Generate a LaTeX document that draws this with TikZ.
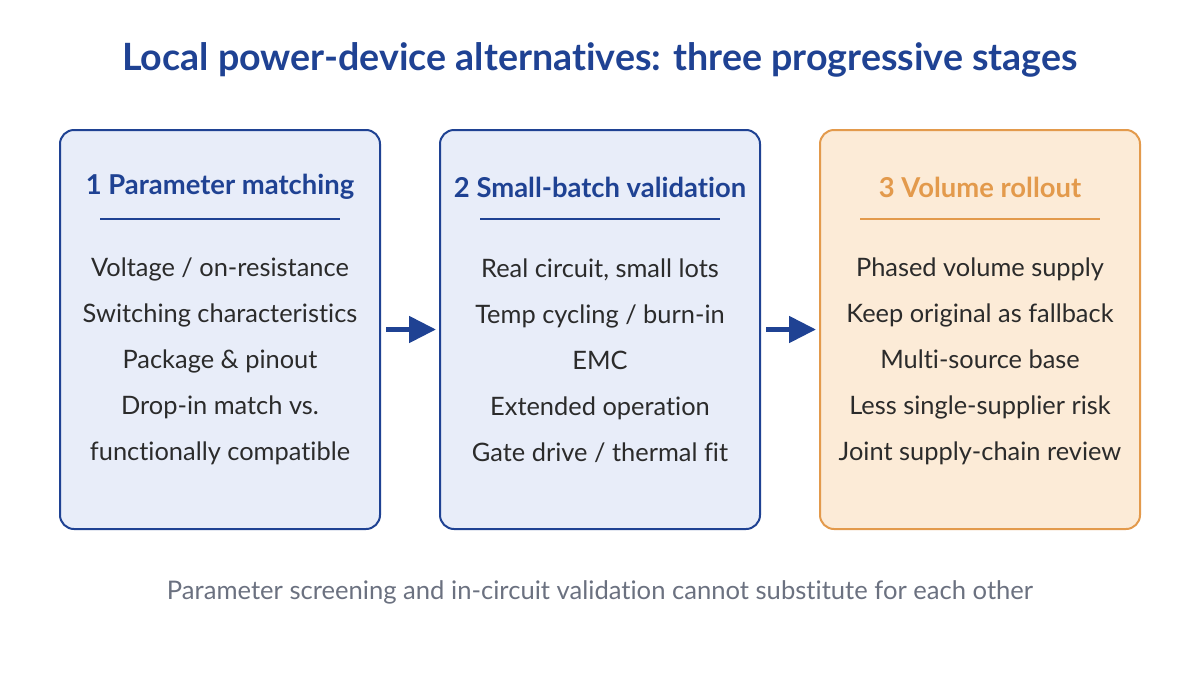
\documentclass[tikz,border=0pt]{standalone}
\usepackage{fontspec}
\setmainfont{Lato}[Ligatures=NoCommon]
\usepackage{xcolor}
\usetikzlibrary{arrows.meta,positioning,calc}

\definecolor{navy}{HTML}{1F4293}
\definecolor{bluefill}{HTML}{E8EDF9}
\definecolor{amber}{HTML}{E39A4C}
\definecolor{amberfill}{HTML}{FCEBD7}
\definecolor{bodytext}{HTML}{2B2B2B}
\definecolor{note}{HTML}{6B7180}

\begin{document}
\begin{tikzpicture}[
  x=0.5pt, y=-0.5pt,
  stage/.style={draw=navy, fill=bluefill, rounded corners=7pt, line width=1pt,
                minimum width=160pt, minimum height=199.5pt, inner sep=0pt},
  hot/.style={stage, draw=amber, fill=amberfill},
  head/.style={font=\fontsize{13.7}{16}\selectfont\bfseries, text=navy},
  hothead/.style={head, text=amber},
  items/.style={align=center, text=bodytext, font=\fontsize{12.7}{23}\selectfont},
  rule/.style={line width=0.8pt, draw=navy},
  ar/.style={-{Triangle[length=13.5pt, width=13pt]}, line width=2.5pt, draw=navy}
]
\useasboundingbox (0,0) rectangle (1200,675);

\node[font=\fontsize{18.8}{22}\selectfont\bfseries, text=navy] (title) at (600,60)
  {Local power-device alternatives: three progressive stages};

\node[stage] (s1) at (220,329.5) {};
\node[stage] (s2) at (600,329.5) {};
\node[hot]   (s3) at (980,329.5) {};

\node[head]    (h1) at (220,187) {1 Parameter matching};
\node[head]    (h2) at (600,187) {2 Small-batch validation};
\node[hothead] (h3) at (980,187) {3 Volume rollout};

\draw[rule] ($(h1)+(-120,32)$) -- ($(h1)+(120,32)$);
\draw[rule] ($(h2)+(-120,32)$) -- ($(h2)+(120,32)$);
\draw[rule, draw=amber] ($(h3)+(-120,32)$) -- ($(h3)+(120,32)$);

\node[items] (i1) at (220,361) {Voltage / on-resistance\\Switching characteristics\\
  Package \& pinout\\Drop-in match vs.\\functionally compatible};
\node[items] (i2) at (600,361) {Real circuit, small lots\\Temp cycling / burn-in\\
  EMC\\Extended operation\\Gate drive / thermal fit};
\node[items] (i3) at (980,361) {Phased volume supply\\Keep original as fallback\\
  Multi-source base\\Less single-supplier risk\\Joint supply-chain review};

\draw[ar] ([xshift=2.5pt]s1.east) -- ([xshift=-1.5pt]s2.west);
\draw[ar] ([xshift=2.5pt]s2.east) -- ([xshift=-1.5pt]s3.west);

\node[text=note, font=\fontsize{12.8}{15}\selectfont] (foot) at (600,592)
  {Parameter screening and in-circuit validation cannot substitute for each other};
\end{tikzpicture}
\end{document}
